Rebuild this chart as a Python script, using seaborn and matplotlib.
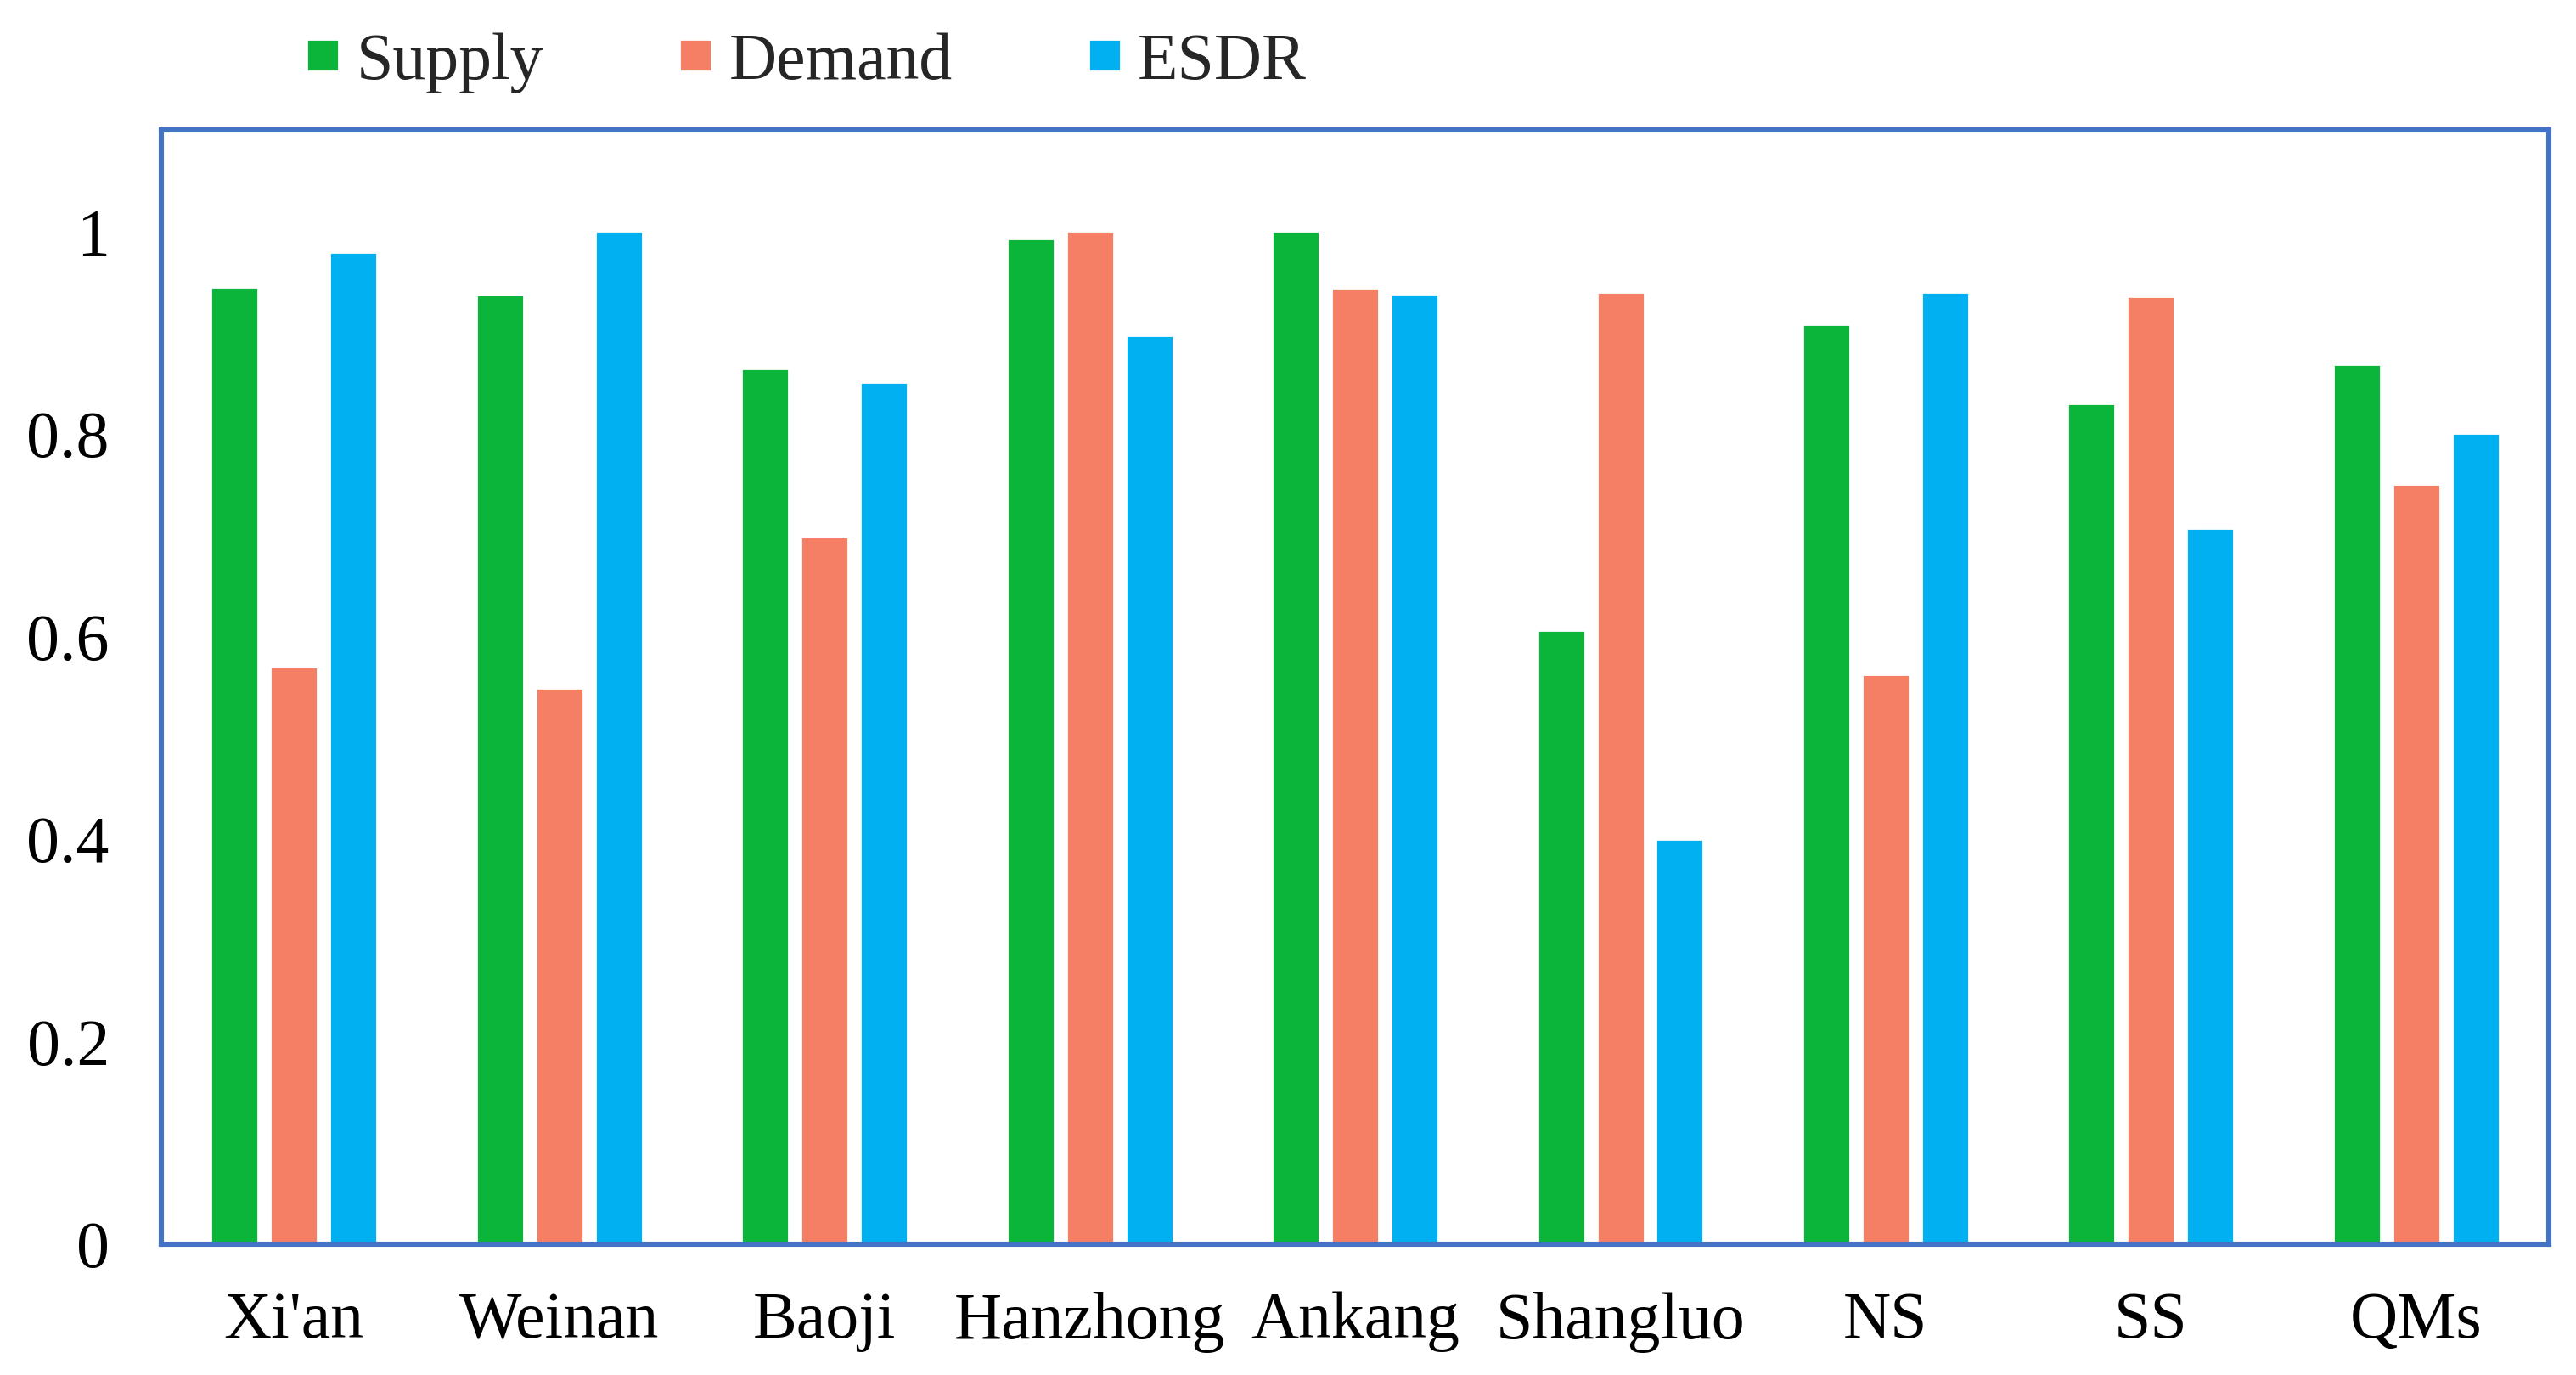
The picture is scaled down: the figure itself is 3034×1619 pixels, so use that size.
import matplotlib
matplotlib.use("Agg")
import matplotlib.pyplot as plt
import pandas as pd
import seaborn as sns

regions = ["Xi'an", "Weinan", "Baoji", "Hanzhong", "Ankang", "Shangluo", "NS", "SS", "QMs"]
supply = [0.945, 0.937, 0.864, 0.993, 1.0, 0.606, 0.908, 0.830, 0.869]
demand = [0.570, 0.549, 0.698, 1.0, 0.944, 0.940, 0.563, 0.936, 0.750]
esdr = [0.979, 1.0, 0.851, 0.897, 0.938, 0.400, 0.940, 0.707, 0.801]

series_names = ["Supply", "Demand", "ESDR"]
series_colors = ["#0AB539", "#F47F64", "#00B0F0"]
y_ticks = [0, 0.2, 0.4, 0.6, 0.8, 1.0]
y_tick_labels = ["0", "0.2", "0.4", "0.6", "0.8", "1"]

df = pd.DataFrame({"region": regions, "Supply": supply, "Demand": demand, "ESDR": esdr})
long_df = df.melt(id_vars="region", var_name="series", value_name="value")

sns.set_style("white")
plt.rcParams["font.family"] = ["Liberation Serif", "DejaVu Serif"]

fig = plt.figure(figsize=(15.17, 8.095), dpi=200)
ax = fig.add_axes([0.0626, 0.0951, 0.9269, 0.8104])

sns.barplot(
    data=long_df,
    x="region",
    y="value",
    hue="series",
    hue_order=series_names,
    palette=series_colors,
    width=0.672,
    gap=0.2,
    saturation=1,
    ax=ax,
)

ax.set_ylim(0, 1.1)
ax.set_xlim(-0.5, len(regions) - 0.5)
ax.set_yticks(y_ticks)
ax.set_yticklabels(y_tick_labels)
ax.set_xlabel("")
ax.set_ylabel("")
ax.tick_params(axis="both", length=0, labelsize=28, colors="black")
ax.tick_params(axis="y", pad=22)
ax.tick_params(axis="x", pad=20)

for spine in ax.spines.values():
    spine.set_visible(True)
    spine.set_color("#4472C4")
    spine.set_linewidth(2.2)

handles, labels = ax.get_legend_handles_labels()
ax.get_legend().remove()
fig.legend(
    handles,
    labels,
    loc="center left",
    bbox_to_anchor=(0.119, 0.954),
    ncol=3,
    frameon=False,
    fontsize=28,
    handlelength=0.49,
    handleheight=0.37,
    handletextpad=0.26,
    columnspacing=2.06,
    borderpad=0,
    borderaxespad=0,
)

fig.savefig("out.png", dpi=200, facecolor="white")
plt.close(fig)
